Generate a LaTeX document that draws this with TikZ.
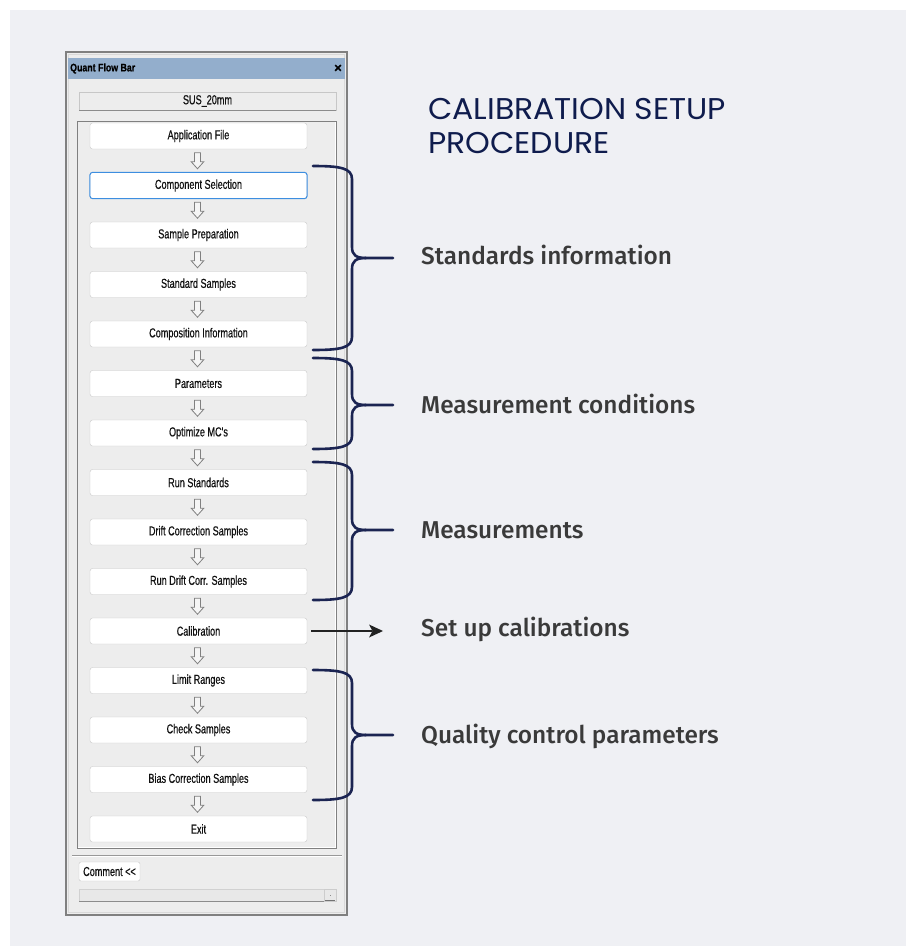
\documentclass[tikz,border=0pt]{standalone}
\usepackage{fontspec}
\usetikzlibrary{arrows.meta,calc}
\setmainfont{Liberation Sans}
\newfontfamily\uifont{Liberation Sans}[FakeBold=0.6]
\newfontfamily\titlefont{Poppins}
\newfontfamily\lblfont{Fira Sans Medium}
\definecolor{bgcol}{HTML}{EFF0F4}
\definecolor{wincol}{HTML}{EDEDED}
\definecolor{titlecol}{HTML}{93AECC}
\definecolor{navy}{HTML}{0F1C4D}
\definecolor{bracecol}{HTML}{1B2452}
\definecolor{lblcol}{HTML}{3A3A3A}
\definecolor{selcol}{HTML}{3D8EE0}
\definecolor{uitext}{HTML}{111111}
\definecolor{arrcol}{HTML}{222222}
\newcommand\ui[1]{\scalebox{0.70}[1]{\uifont\addfontfeature{FakeBold=0.6}\fontsize{13}{14}\selectfont\color{uitext}#1}}
\newcommand\uib[1]{\scalebox{0.8}[1]{\uifont\bfseries\fontsize{11}{12}\selectfont #1}}
\newcommand\ttltext[1]{\scalebox{1.05}[1]{#1}}
\newcommand\mybrace[3]{%
  \draw[bracestyle] (313,#1) .. controls (340,#1) and (352,{#1+2}) .. (352,{#1+13})
    -- (352,{#2-11}) .. controls (352,{#2-3}) and (356,#2) .. (366,#2) -- (393,#2);
  \draw[bracestyle] (313,#3) .. controls (340,#3) and (352,{#3-2}) .. (352,{#3-13})
    -- (352,{#2+11}) .. controls (352,{#2+3}) and (356,#2) .. (366,#2);
}
\tikzset{
  btn/.style={draw=black!22, fill=white, rounded corners=2.5pt, minimum width=217pt,
    minimum height=26pt, inner sep=0pt},
  bracestyle/.style={draw=bracecol, line width=2.6pt, line cap=round},
  lbl/.style={anchor=base west, inner sep=0pt, text=lblcol, font=\lblfont\fontsize{24.4}{26}\selectfont},
  ttl/.style={anchor=base west, inner sep=0pt, text=navy, font=\titlefont\fontsize{30}{32}\selectfont},
  darrow/.pic={\draw[black!50, fill=black!4, line width=0.8pt, line join=miter]
     (-3,-8) -- (3,-8) -- (3,1) -- (6.3,1) -- (0,8) -- (-6.3,1) -- (-3,1) -- cycle;}
}
\begin{document}
\begin{tikzpicture}[x=1pt,y=-1pt]
\useasboundingbox (0,0) rectangle (906,946);
\fill[white] (0,0) rectangle (906,946);
\fill[bgcol] (10,10) rectangle (906,946);
% window
\draw[fill=wincol, draw=black!50, line width=1.5pt] (66,52) rectangle (347,915);
\draw[black!15, line width=0.8pt] (68.5,54.5) rectangle (344.5,912.5);
\fill[titlecol] (68,58) rectangle (345,79);
\node[anchor=west, inner sep=0pt] (wtitle) at (70,68.5) {\uib{Quant Flow Bar}};
\node[inner sep=0pt] (wclose) at (338,68.5) {\uifont\bfseries\fontsize{13}{13}\selectfont ×};
% SUS box
\draw[fill=black!7, draw=black!22] (79,92) rectangle (336,110);
\draw[black!45, line width=0.8pt] (79,110) -- (336,110);
\node (sus) at (207.5,101) {\ui{SUS\_20mm}};
% inner panel
\draw[fill=wincol, draw=black!50, line width=1pt] (77,121) rectangle (336,848);
\draw[white, line width=0.8pt] (78,847) -- (335.5,847) -- (335.5,122);
% buttons
\foreach \t [count=\i] in {Application File, Component Selection, Sample Preparation,
  Standard Samples, Composition Information, Parameters, Optimize MC's, Run Standards,
  Drift Correction Samples, Run Drift Corr. Samples, Calibration, Limit Ranges,
  Check Samples, Bias Correction Samples, Exit}{
  \node[btn] (b\i) at (198.5,{136+(\i-1)*49.5}) {\ui{\t}};
}
\draw[selcol, line width=1pt, rounded corners=3pt] (b2.south west) rectangle (b2.north east);
\foreach \i in {1,...,14}{
  \pgfmathtruncatemacro\j{\i+1}
  \pic at ($(b\i.south)!0.5!(b\j.north)+(-1,0)$) {darrow};
}
% separator and bottom
\draw[black!40, line width=0.8pt] (72,855) -- (342,855);
\draw[white, line width=0.8pt] (72,856.2) -- (342,856.2);
\node[draw=black!22, fill=white, rounded corners=2pt, minimum width=61pt, minimum height=19pt,
  inner sep=0pt] (comment) at (109.5,871.5) {\ui{Comment <<}};
\draw[fill=black!9, draw=black!18] (79,889) rectangle (336,901);
\draw[black!45, line width=0.8pt] (79,901) -- (336,901);
\draw[black!20] (324,889) rectangle (336,901);
\fill[black!45] (329.5,894.5) rectangle (330.8,895.8);
\draw[black!55, line width=1pt] (325,900.5) -- (335,900.5);
% title
\node[ttl] (t1) at (428,119) {\ttltext{CALIBRATION SETUP}};
\node[ttl] (t2) at (428,153) {\ttltext{PROCEDURE}};
% labels
\node[lbl] (l1) at (421,264) {Standards information};
\node[lbl] (l2) at (421,413) {Measurement conditions};
\node[lbl] (l3) at (421,538) {Measurements};
\node[lbl] (l4) at (421,636) {Set up calibrations};
\node[lbl] (l5) at (421,743) {Quality control parameters};
% braces
\mybrace{166}{258}{350}
\mybrace{358}{405}{449}
\mybrace{462}{530}{600}
\mybrace{670}{735}{800}
% arrow
\coordinate (calend) at (383,631);
\coordinate (calshaft) at (372,631);
\draw[arrcol, line width=2.8pt] ([xshift=4pt]b11.east) -- (calshaft);
\fill[arrcol] (calend) -- ++(-14,-6.5) -- ++(3.5,6.5) -- ++(-3.5,6.5) -- cycle;
\end{tikzpicture}
\end{document}
